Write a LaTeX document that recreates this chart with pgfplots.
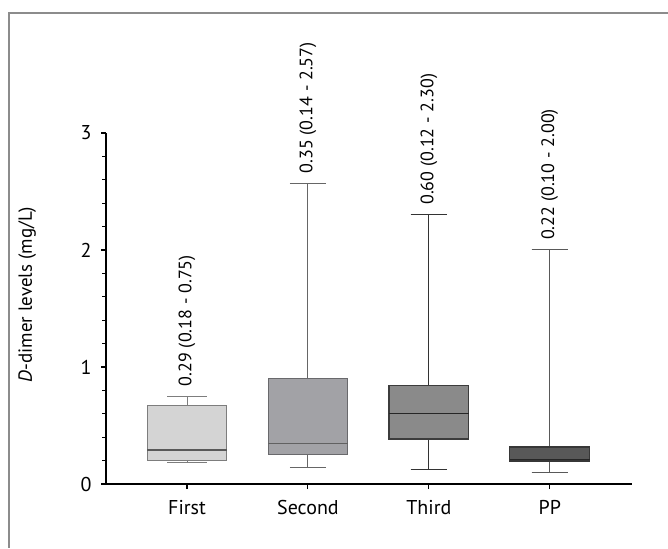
\documentclass[border=0pt]{standalone}
\usepackage{fontspec}
\setmainfont{PT Sans}
\usepackage{pgfplots}
\usepgfplotslibrary{statistics}
\pgfplotsset{compat=1.18}
\definecolor{f1}{RGB}{212,212,212}
\definecolor{f2}{RGB}{162,162,166}
\definecolor{f3}{RGB}{138,138,138}
\definecolor{f4}{RGB}{88,88,88}
\definecolor{b1}{RGB}{125,125,125}
\definecolor{b2}{RGB}{105,105,108}
\definecolor{b3}{RGB}{60,60,60}
\definecolor{b4}{RGB}{55,55,55}
\definecolor{framec}{RGB}{140,140,140}
\begin{document}
\begin{tikzpicture}[x=1pt,y=1pt]
\useasboundingbox (0,0) rectangle (668,548);
\draw[color=framec, line width=1.3pt] (668,535) -- (9,535) -- (9,0);
\begin{axis}[
  at={(106pt,64pt)}, anchor=south west,
  scale only axis, width=526pt, height=351pt,
  xmin=0.33, xmax=4.68, ymin=0, ymax=3,
  axis x line*=bottom, axis y line*=left,
  axis line style={line width=1.6pt, black, -},
  xtick={1,2,3,4}, xticklabels={First,Second,Third,PP},
  ytick={0,1,2,3}, minor y tick num=4,
  tick align=outside,
  major tick length=5pt, minor tick length=4pt,
  every tick/.style={black, line width=1.1pt},
  /pgf/number format/assume math mode=true,
  ticklabel style={font=\fontsize{20}{22}\selectfont},
  xticklabel style={yshift=-8pt},
  yticklabel style={xshift=-6pt},
  ylabel={\textit{D}-dimer levels (mg/L)},
  ylabel style={font=\fontsize{19}{22}\selectfont, at={(axis description cs:-0.15,0.54)}, anchor=center},
  boxplot/draw direction=y,
  clip=false,
]
\addplot[boxplot prepared={draw position=1, median=0.29, lower quartile=0.20, upper quartile=0.67, lower whisker=0.18, upper whisker=0.75, box extend=0.66, whisker extend=0.33},
  draw=b1, fill=f1, line width=1pt,
  boxplot/every median/.style={draw=black!65, line width=1.3pt},
  boxplot/every whisker/.style={draw=b1, line width=1pt}] coordinates {};
\addplot[boxplot prepared={draw position=2, median=0.345, lower quartile=0.25, upper quartile=0.90, lower whisker=0.14, upper whisker=2.57, box extend=0.66, whisker extend=0.30},
  draw=b2, fill=f2, line width=1pt,
  boxplot/every median/.style={draw=black!62, line width=1.3pt},
  boxplot/every whisker/.style={draw=black!60, line width=1pt}] coordinates {};
\addplot[boxplot prepared={draw position=3, median=0.60, lower quartile=0.385, upper quartile=0.84, lower whisker=0.12, upper whisker=2.30, box extend=0.66, whisker extend=0.30},
  draw=b3, fill=f3, line width=1.1pt,
  boxplot/every median/.style={draw=black!85, line width=1.3pt},
  boxplot/every whisker/.style={draw=black!80, line width=1pt}] coordinates {};
\addplot[boxplot prepared={draw position=4, median=0.21, lower quartile=0.197, upper quartile=0.316, lower whisker=0.10, upper whisker=2.00, box extend=0.66, whisker extend=0.30},
  draw=b4, fill=f4, line width=1.1pt,
  boxplot/every median/.style={draw=black!85, line width=1.5pt},
  boxplot/every whisker/.style={draw=black!65, line width=1pt}] coordinates {};
\begin{scope}[every node/.style={rotate=90, anchor=west, inner sep=0pt, font=\fontsize{18}{20}\selectfont}]
\node at (axis cs:1,0.835) {0.29 (0.18 - 0.75)};
\node at (axis cs:2,2.655) {0.35 (0.14 - 2.57)};
\node at (axis cs:3,2.385) {0.60 (0.12 - 2.30)};
\node at (axis cs:4,2.085) {0.22 (0.10 - 2.00)};
\end{scope}
\end{axis}
\end{tikzpicture}
\end{document}
